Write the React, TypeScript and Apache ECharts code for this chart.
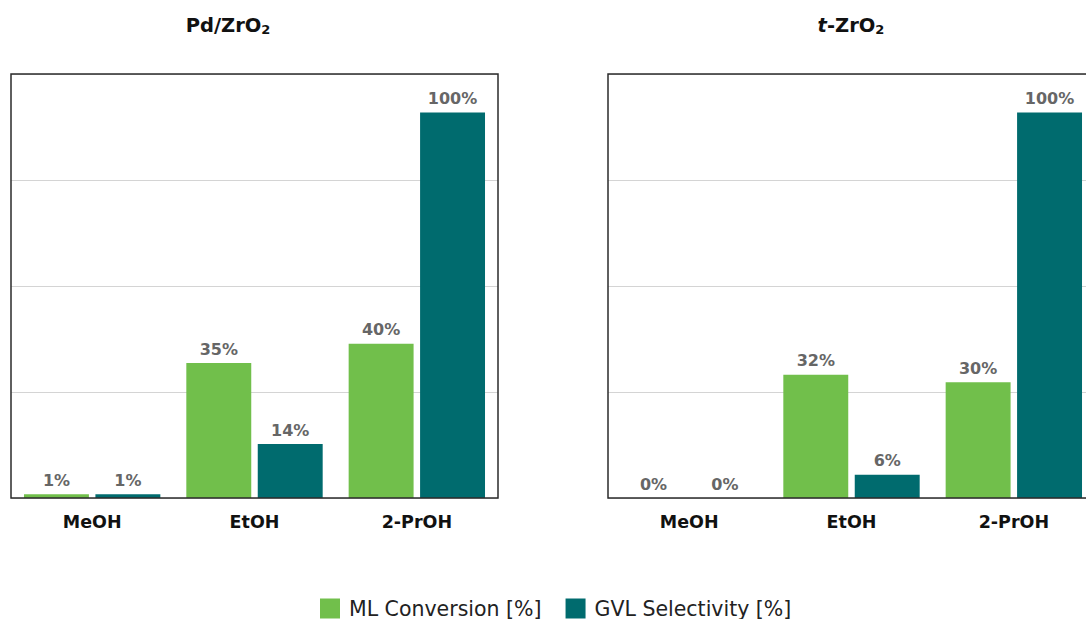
import React, { useEffect, useRef } from "react";
import * as echarts from "echarts";

// Solvent categories shared by both panels
const solvents = ["MeOH", "EtOH", "2-PrOH"];

// Pd/ZrO2 panel
const pdConversion = [1, 35, 40];
const pdSelectivity = [1, 14, 100];

// t-ZrO2 panel
const tzConversion = [0, 32, 30];
const tzSelectivity = [0, 6, 100];

const seriesNames = ["ML Conversion [%]", "GVL Selectivity [%]"];
const GREEN = "#71bf4b";
const TEAL = "#006b6e";
const FONT = "'DejaVu Sans', 'Noto Sans', sans-serif";

export default function App() {
  const ref = useRef<HTMLDivElement>(null);

  useEffect(() => {
    if (!ref.current) return;
    const chart = echarts.init(ref.current, undefined, { renderer: "svg" });

    const panels = [
      { left: 11, top: 74, width: 487, height: 424 },
      { left: 608, top: 74, width: 487, height: 424 },
    ];

    const grids = panels.map((g) => ({
      ...g,
      show: false,
      outerBoundsMode: "none",
      containLabel: false,
    }));

    // Panel frames: the left one is closed, the right one runs past the edge
    const frameStyle = { fill: "none", stroke: "#2b2b2b", lineWidth: 1.5 };
    const a = panels[0];
    const b = panels[1];
    const frames = [
      {
        type: "rect",
        shape: { x: a.left, y: a.top, width: a.width, height: a.height },
        style: frameStyle,
        z: 10,
      },
      {
        type: "polyline",
        shape: {
          points: [
            [b.left + b.width, b.top],
            [b.left, b.top],
            [b.left, b.top + b.height],
            [b.left + b.width, b.top + b.height],
          ],
        },
        style: frameStyle,
        z: 10,
      },
    ];

    const xAxes = [0, 1].map((i) => ({
      type: "category",
      gridIndex: i,
      data: solvents,
      axisLine: { show: false },
      axisTick: { show: false },
      splitLine: { show: false },
      axisLabel: {
        margin: 15,
        color: "#111",
        fontFamily: FONT,
        fontWeight: "bold",
        fontSize: 17.5,
      },
    }));

    const yAxes = [0, 1].map((i) => ({
      type: "value",
      gridIndex: i,
      min: 0,
      max: 110,
      interval: 27.5,
      axisLine: { show: false },
      axisTick: { show: false },
      axisLabel: { show: false },
      splitLine: { lineStyle: { color: "#d4d4d4", width: 1 } },
    }));

    const barLabel = {
      show: true,
      position: "top",
      distance: 6,
      formatter: "{c}%",
      color: "#666",
      fontFamily: FONT,
      fontWeight: "bold",
      fontSize: 16,
    };

    const makeBar = (name: string, data: number[], color: string, idx: number) => ({
      type: "bar",
      name,
      xAxisIndex: idx,
      yAxisIndex: idx,
      data,
      barGap: "10%",
      barCategoryGap: "16%",
      itemStyle: { color },
      label: barLabel,
    });

    const subTitle = (x: number, italic: string, body: string) => ({
      type: "text",
      x,
      y: 25,
      style: {
        text: (italic ? "{it|" + italic + "}" : "") + "{b|" + body + "}{sub|2}",
        align: "center",
        verticalAlign: "middle",
        rich: {
          it: { fontFamily: FONT, fontWeight: "bold", fontStyle: "italic", fontSize: 19.5, fill: "#111" },
          b: { fontFamily: FONT, fontWeight: "bold", fontSize: 19.5, fill: "#111" },
          sub: { fontFamily: FONT, fontWeight: "bold", fontSize: 13, fill: "#111", padding: [8, 0, 0, 0] },
        },
      },
    });

    chart.setOption({
      animation: false,
      textStyle: { fontFamily: FONT },
      grid: grids,
      xAxis: xAxes,
      yAxis: yAxes,
      legend: {
        data: seriesNames,
        left: 315,
        top: 593,
        itemWidth: 20,
        itemHeight: 20,
        itemGap: 24,
        icon: "rect",
        textStyle: { fontFamily: FONT, fontSize: 20.5, color: "#222", padding: [0, 0, 4, 4] },
      },
      graphic: [...frames, subTitle(228, "", "Pd/ZrO"), subTitle(851, "t", "-ZrO")],
      series: [
        makeBar(seriesNames[0], pdConversion, GREEN, 0),
        makeBar(seriesNames[1], pdSelectivity, TEAL, 0),
        makeBar(seriesNames[0], tzConversion, GREEN, 1),
        makeBar(seriesNames[1], tzSelectivity, TEAL, 1),
      ],
    });

    return () => chart.dispose();
  }, []);

  // The chart canvas is wider than the visible frame so the right panel runs off the edge.
  return (
    <div
      style={{
        position: "absolute",
        left: 0,
        top: 0,
        width: 1086,
        height: 619,
        overflow: "hidden",
      }}
    >
      <div ref={ref} style={{ width: 1110, height: 619 }} />
    </div>
  );
}
